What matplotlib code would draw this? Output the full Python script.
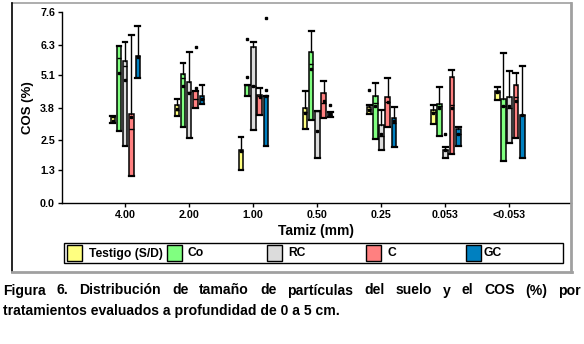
import matplotlib
matplotlib.use("Agg")
import matplotlib.pyplot as plt
from matplotlib.patches import Rectangle
from matplotlib.lines import Line2D
import numpy as np

# ---------------- data ----------------
categories = ["4.00", "2.00", "1.00", "0.50", "0.25", "0.053", "<0.053"]
treatments = ["Testigo (S/D)", "Co", "RC", "C", "GC"]
colors = ["#FFFF80", "#80FF80", "#DCDCDC", "#FF8080", "#0080C0"]

# Testigo (S/D)
t_q1 = [3.18, 3.47, 1.30, 2.94, 3.54, 3.15, 4.09]
t_med = [3.42, 3.71, 2.05, 3.64, 3.75, 3.64, 4.43]
t_q3 = [3.46, 3.88, 2.11, 3.77, 3.81, 3.71, 4.46]
t_hi = [3.46, 4.13, 2.62, 4.46, 3.90, 3.89, 4.61]
t_mean = [3.28, 3.75, 2.05, 3.58, 3.72, 3.58, 4.43]
t_out = [[], [], [], [], [4.50], [], []]

# Co
co_q1 = [2.87, 3.02, 4.24, 3.31, 2.54, 2.65, 1.67]
co_med = [5.76, 4.97, 4.69, 5.52, 3.99, 3.87, 3.84]
co_q3 = [6.25, 5.14, 4.69, 6.00, 4.25, 3.93, 4.15]
co_hi = [6.25, 5.56, 4.69, 6.83, 4.77, 4.61, 5.96]
co_mean = [5.17, 4.66, 5.03, 5.32, 3.87, 3.77, 3.84]
co_out = [[], [], [6.53], [], [], [], []]

# RC
rc_q1 = [2.25, 2.60, 2.90, 1.80, 2.12, 1.79, 2.40]
rc_med = [5.47, 4.40, 4.66, 3.66, 2.65, 2.12, 3.77]
rc_q3 = [5.67, 4.81, 6.20, 3.66, 3.10, 2.12, 4.21]
rc_hi = [6.41, 6.00, 6.42, 3.66, 3.71, 2.21, 5.24]
rc_mean = [4.90, 4.37, 4.66, 2.85, 2.75, 2.12, 3.84]
rc_out = [[], [], [], [], [], [2.75], []]

# C
c_q1 = [1.06, 3.80, 3.50, 3.38, 3.02, 1.95, 2.58]
c_med = [2.94, 4.13, 4.24, 3.97, 4.01, 3.89, 4.23]
c_q3 = [3.54, 4.46, 4.28, 4.37, 4.21, 5.03, 4.69]
c_hi = [6.69, 4.46, 4.56, 4.87, 4.97, 5.28, 5.17]
c_mean = [3.44, 4.57, 4.22, 4.04, 4.01, 3.77, 4.07]
c_out = [[], [6.21], [], [], [], [], []]

# GC
gc_q1 = [4.97, 3.95, 2.26, 3.42, 2.24, 2.28, 1.79]
gc_med = [5.83, 4.15, 4.24, 3.50, 3.18, 2.75, 3.50]
gc_q3 = [5.85, 4.24, 4.24, 3.63, 3.38, 2.94, 3.50]
gc_hi = [7.05, 4.69, 4.24, 3.63, 3.81, 3.02, 5.47]
gc_mean = [5.80, 4.15, 4.24, 3.55, 3.28, 2.75, 3.50]
gc_out = [[], [], [4.49, 7.35], [3.88], [], [], []]

series = [
    (t_q1, t_med, t_q3, t_hi, t_mean, t_out),
    (co_q1, co_med, co_q3, co_hi, co_mean, co_out),
    (rc_q1, rc_med, rc_q3, rc_hi, rc_mean, rc_out),
    (c_q1, c_med, c_q3, c_hi, c_mean, c_out),
    (gc_q1, gc_med, gc_q3, gc_hi, gc_mean, gc_out),
]

yticks = [0.0, 1.3, 2.5, 3.8, 5.1, 6.3, 7.6]

# ---------------- figure ----------------
W, H = 584, 344
fig = plt.figure(figsize=(W / 100, H / 100), dpi=100)
fig.patch.set_facecolor("white")

def fx(px):
    return px / W

def fy(py):
    return 1 - py / H

ax_l, ax_r, ax_t, ax_b = 62, 571, 12, 203
ax = fig.add_axes([fx(ax_l), fy(ax_b), fx(ax_r - ax_l), (ax_b - ax_t) / H])

offsets = [-0.19, -0.095, 0.0, 0.1, 0.2]
width = 0.072
for j, (q1, med, q3, hi, mean, out) in enumerate(series):
    stats = []
    for i in range(len(categories)):
        stats.append(dict(q1=q1[i], med=med[i], q3=q3[i], whislo=q1[i],
                          whishi=hi[i], mean=mean[i], fliers=out[i]))
    pos = [i + offsets[j] for i in range(len(categories))]
    ax.bxp(stats, positions=pos, widths=width, patch_artist=True,
           showmeans=True, showfliers=True, capwidths=width * 1.05,
           boxprops=dict(facecolor=colors[j], edgecolor="black", linewidth=1.1),
           medianprops=dict(color="black", linewidth=1.0),
           whiskerprops=dict(color="black", linewidth=1.0),
           capprops=dict(color="black", linewidth=1.6),
           meanprops=dict(marker="s", markerfacecolor="black",
                          markeredgecolor="black", markersize=1.7),
           flierprops=dict(marker="s", markerfacecolor="black",
                           markeredgecolor="black", markersize=1.7))

ax.set_xlim(-0.984, 6.96)
ax.set_ylim(0, 7.6)
ax.set_yticks(yticks)
ax.set_yticklabels([f"{v:.1f}" for v in yticks])
ax.set_xticks(range(len(categories)))
ax.set_xticklabels(categories)
for s in ["top", "right"]:
    ax.spines[s].set_visible(False)
for s in ["left", "bottom"]:
    ax.spines[s].set_linewidth(1.0)
ax.tick_params(axis="both", direction="out", length=3, width=1.0, pad=2)
for lab in ax.get_xticklabels() + ax.get_yticklabels():
    lab.set_fontfamily("Liberation Sans")
    lab.set_fontweight("bold")
    lab.set_fontsize(7.7)
ax.patch.set_alpha(0)

ax.set_xlabel("Tamiz (mm)", fontfamily="Liberation Sans", fontweight="bold",
              fontsize=10, labelpad=3)
ax.set_ylabel("COS (%)", fontfamily="Liberation Sans", fontweight="bold",
              fontsize=9.5, labelpad=4)

# ---------------- outer frame ----------------
fig.add_artist(Line2D([fx(12), fx(571)], [fy(3), fy(3)], color="#a0a0a0", lw=1.2))
fig.add_artist(Line2D([fx(12), fx(12)], [fy(3), fy(272)], color="black", lw=1.2))
fig.add_artist(Line2D([fx(12), fx(572)], [fy(272), fy(272)], color="#a0a0a0", lw=2.0))
fig.add_artist(Line2D([fx(571), fx(571)], [fy(3), fy(272)], color="#a0a0a0", lw=2.0))

# ---------------- legend ----------------
fig.add_artist(Rectangle((fx(64), fy(263)), fx(563 - 64), (263 - 243) / H,
                         facecolor="white", edgecolor="black", lw=1.0))
patch_x = [67, 167, 267, 366, 466]
text_x = [89, 187, 288, 387, 484]
for j, name in enumerate(treatments):
    fig.add_artist(Rectangle((fx(patch_x[j]), fy(261)), fx(15), 16 / H,
                             facecolor=colors[j], edgecolor="black", lw=1.0))
    fig.text(fx(text_x[j]), fy(253.5), name, ha="left", va="center",
             fontfamily="Liberation Sans", fontweight="bold", fontsize=8.7)

# ---------------- caption (justified first line) ----------------
line1 = "Figura 6. Distribución de tamaño de partículas del suelo y el COS (%) por"
line2 = "tratamientos evaluados a profundidad de 0 a 5 cm."
cap_kw = dict(fontfamily="Liberation Sans", fontweight="bold", fontsize=10.1,
              va="baseline", ha="left")
renderer = fig.canvas.get_renderer()
words = line1.split(" ")
texts = [fig.text(0, fy(294.5), w, **cap_kw) for w in words]
widths = [t.get_window_extent(renderer).width for t in texts]
left_px, right_px = 3, 581
gap = (right_px - left_px - sum(widths)) / (len(words) - 1)
x = left_px
for t, w in zip(texts, widths):
    t.set_x(fx(x))
    x += w + gap
fig.text(fx(3), fy(315.5), line2, **cap_kw)

fig.savefig("out.png", dpi=100)
